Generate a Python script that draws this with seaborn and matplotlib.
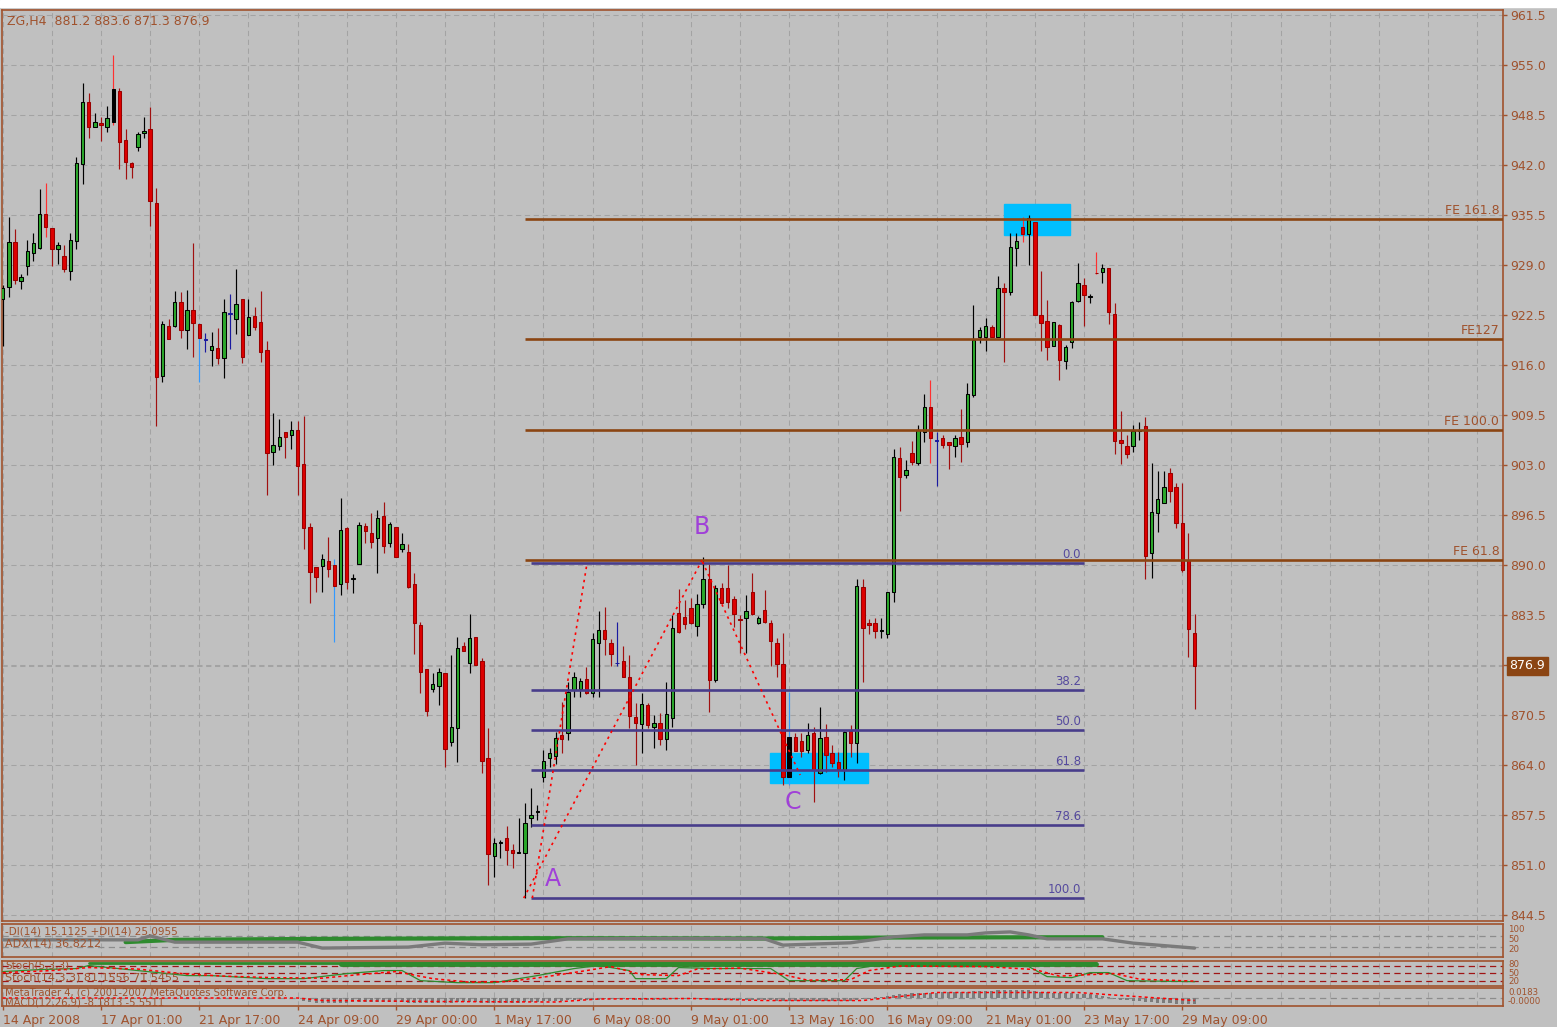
import pandas as pd
import numpy as np
import matplotlib
matplotlib.use("Agg")
import matplotlib.pyplot as plt
import seaborn as sns
from matplotlib.patches import Rectangle

# ---- H4 bars (bar 0 = 14 Apr 2008) ----
opens = [924.6, 926.1, 932.0, 926.9, 928.9, 930.6, 931.2, 935.6, 933.8, 931.1,
         930.2, 928.2, 932.1, 942.1, 950.2, 946.9, 947.5, 946.9, 947.6, 951.6,
         945.3, 942.3, 944.3, 946.2, 946.7, 937.1, 914.6, 921.1, 921.1, 924.2,
         920.6, 923.2, 921.3, 919.4, 918.0, 918.2, 916.9, 922.7, 922.0, 924.6,
         919.9, 922.4, 921.6, 918.0, 904.7, 905.5, 907.3, 906.9, 907.6, 903.1,
         894.9, 889.7, 889.9, 890.5, 890.0, 887.5, 894.8, 888.2, 890.1, 895.1,
         894.2, 893.5, 896.4, 892.9, 894.9, 892.1, 891.7, 887.5, 882.2, 876.5,
         873.9, 874.3, 876.0, 867.0, 868.8, 879.5, 877.3, 880.6, 877.5, 864.9,
         852.2, 853.8, 854.5, 852.9, 852.6, 852.6, 857.1, 857.9, 862.4, 864.9,
         865.2, 867.9, 868.2, 873.8, 873.9, 875.2, 873.4, 879.9, 881.6, 879.9,
         877.3, 877.5, 875.4, 870.2, 869.3, 871.8, 868.9, 869.5, 867.4, 870.1,
         883.8, 883.2, 884.4, 882.1, 884.9, 888.2, 875.1, 887.0, 887.0, 885.6,
         883.0, 883.1, 886.5, 882.5, 884.2, 882.5, 879.9, 877.1, 862.4, 867.6,
         867.1, 866.0, 868.2, 863.0, 867.6, 865.6, 864.4, 863.4, 868.4, 866.9,
         887.1, 882.4, 882.4, 881.4, 881.0, 886.5, 903.9, 901.7, 904.6, 903.3,
         907.3, 910.5, 906.1, 906.5, 906.0, 905.5, 906.6, 906.0, 912.1, 919.6,
         919.6, 920.9, 919.6, 926.0, 925.5, 931.2, 933.9, 933.0, 934.6, 922.5,
         921.7, 918.5, 921.2, 916.5, 919.0, 924.3, 926.4, 924.8, 928.0, 928.1,
         928.6, 922.6, 906.2, 905.5, 905.5, 907.4, 908.1, 891.6, 896.8, 898.1,
         902.0, 900.1, 895.5, 890.7, 881.2]
highs = [926.4, 935.2, 933.7, 927.8, 932.3, 933.2, 938.9, 939.7, 933.8, 932.0,
         931.6, 933.2, 943.0, 952.7, 951.4, 948.8, 948.2, 949.7, 956.3, 952.0,
         946.7, 942.4, 946.3, 948.2, 949.5, 939.0, 921.7, 922.0, 925.6, 925.5,
         925.8, 931.9, 921.5, 920.2, 920.3, 920.8, 924.6, 925.2, 928.5, 924.6,
         924.6, 923.5, 925.6, 919.1, 909.8, 909.0, 907.3, 908.7, 908.7, 909.4,
         895.5, 889.7, 891.4, 893.6, 890.8, 898.7, 894.9, 888.8, 895.6, 895.5,
         896.8, 897.2, 898.2, 895.6, 894.9, 894.2, 892.7, 889.0, 882.6, 876.5,
         876.0, 876.6, 876.0, 878.3, 880.6, 880.0, 883.6, 880.6, 877.9, 868.8,
         854.5, 854.3, 856.1, 853.7, 857.1, 859.1, 861.0, 858.8, 866.0, 866.2,
         868.3, 872.2, 874.8, 876.1, 875.3, 876.7, 881.2, 884.0, 884.5, 880.4,
         882.6, 879.5, 878.3, 872.1, 873.4, 872.1, 870.5, 870.8, 874.8, 883.5,
         886.9, 885.5, 885.7, 886.2, 891.0, 890.1, 887.4, 887.7, 890.0, 886.0,
         883.5, 886.1, 889.0, 883.4, 886.8, 882.9, 880.5, 881.2, 873.5, 868.2,
         868.2, 869.5, 868.9, 871.5, 869.3, 866.6, 865.7, 868.4, 869.2, 888.2,
         888.2, 883.0, 883.1, 883.1, 886.5, 905.1, 905.3, 903.7, 906.1, 908.2,
         912.2, 914.0, 907.3, 906.9, 906.0, 906.9, 910.3, 913.7, 923.8, 920.9,
         922.1, 921.2, 927.6, 926.7, 933.2, 933.2, 935.2, 935.5, 934.6, 928.2,
         924.5, 921.6, 921.3, 918.6, 924.3, 929.3, 927.3, 925.2, 930.7, 929.1,
         928.6, 924.1, 910.0, 906.9, 908.2, 908.6, 909.2, 903.3, 902.2, 902.2,
         902.6, 900.7, 900.7, 894.2, 883.6]
lows = [918.5, 924.8, 926.5, 925.9, 927.7, 929.5, 931.1, 932.6, 928.9, 929.1,
        928.1, 927.1, 931.1, 939.5, 945.5, 946.9, 945.1, 946.3, 947.2, 941.5,
        940.2, 940.3, 943.8, 945.5, 934.1, 908.1, 913.8, 919.4, 920.9, 919.5,
        918.1, 917.0, 913.8, 917.7, 915.9, 916.1, 914.3, 918.1, 920.0, 916.3,
        919.9, 920.6, 916.4, 899.1, 903.0, 905.0, 903.9, 905.1, 899.1, 892.1,
        885.1, 886.5, 886.5, 888.4, 880.0, 886.1, 886.9, 886.4, 890.1, 892.9,
        892.2, 889.0, 891.6, 892.3, 891.0, 891.7, 887.0, 878.4, 873.4, 870.4,
        873.5, 871.8, 863.7, 866.5, 864.4, 878.8, 876.0, 877.0, 863.0, 848.4,
        849.4, 851.9, 851.0, 850.6, 852.6, 846.7, 855.9, 856.9, 861.8, 863.7,
        864.1, 865.6, 867.3, 872.8, 872.8, 873.2, 872.8, 872.8, 878.3, 876.9,
        876.9, 875.4, 868.8, 864.0, 865.6, 868.8, 866.2, 866.6, 866.0, 868.9,
        881.2, 881.7, 882.3, 880.8, 884.4, 870.9, 874.8, 885.1, 884.4, 881.9,
        878.6, 878.6, 883.5, 882.3, 882.5, 876.9, 875.4, 861.4, 861.4, 865.8,
        865.0, 865.5, 859.2, 862.8, 863.1, 863.7, 862.4, 862.1, 865.0, 864.3,
        874.8, 881.0, 880.5, 880.5, 880.5, 885.2, 897.0, 901.3, 903.0, 903.0,
        906.0, 903.3, 900.3, 905.2, 902.5, 904.0, 903.4, 905.3, 911.8, 918.9,
        917.8, 919.6, 919.6, 916.4, 925.1, 928.9, 932.0, 929.0, 922.5, 917.8,
        916.7, 918.5, 914.1, 915.5, 918.2, 924.2, 921.1, 924.1, 927.8, 926.7,
        921.3, 904.4, 903.1, 903.9, 904.7, 906.3, 888.2, 888.3, 894.3, 898.1,
        898.2, 894.8, 889.1, 878.0, 871.3]
closes = [926.0, 932.0, 927.1, 927.4, 930.8, 931.9, 935.6, 933.9, 931.1, 931.6,
          928.5, 932.3, 942.3, 950.2, 946.9, 947.6, 947.2, 948.1, 951.9, 945.0,
          942.4, 941.7, 946.0, 946.4, 937.3, 914.4, 921.3, 919.4, 924.2, 920.6,
          923.2, 921.5, 919.5, 919.3, 918.5, 916.9, 922.9, 922.6, 923.9, 917.0,
          922.2, 920.9, 917.7, 904.6, 905.6, 906.6, 906.6, 907.6, 902.9, 894.8,
          889.1, 888.4, 890.8, 889.5, 887.3, 894.6, 887.8, 888.3, 895.2, 894.4,
          893.0, 896.1, 892.5, 895.3, 891.0, 892.7, 887.1, 882.5, 876.1, 871.0,
          874.5, 876.1, 866.1, 868.9, 879.2, 878.8, 880.5, 877.0, 864.5, 852.4,
          853.9, 854.0, 852.9, 852.6, 852.7, 856.5, 857.5, 857.9, 864.5, 865.6,
          867.5, 867.4, 873.5, 875.4, 874.9, 873.4, 880.4, 881.6, 880.4, 878.4,
          877.2, 875.4, 870.4, 869.5, 871.9, 869.2, 869.5, 867.4, 870.6, 881.8,
          881.3, 882.3, 882.5, 884.9, 888.2, 875.1, 887.0, 885.1, 885.2, 883.6,
          882.9, 884.0, 883.6, 883.1, 882.6, 880.1, 877.1, 862.4, 867.6, 865.8,
          865.8, 867.9, 863.4, 867.5, 865.3, 864.3, 863.5, 868.3, 866.9, 887.3,
          881.8, 882.2, 881.4, 881.4, 886.5, 904.0, 901.4, 902.4, 903.4, 907.6,
          910.5, 906.5, 906.1, 905.6, 905.6, 906.5, 905.7, 912.2, 919.3, 920.6,
          921.1, 919.6, 926.0, 925.5, 931.3, 932.1, 933.0, 935.1, 922.5, 921.5,
          918.3, 921.6, 916.7, 918.3, 924.2, 926.7, 925.1, 924.9, 927.9, 928.6,
          922.9, 906.1, 905.9, 904.4, 907.4, 907.5, 891.2, 896.9, 898.6, 900.1,
          899.6, 895.5, 889.4, 881.7, 876.9]

date_bars = [0, 16, 32, 48, 64, 80, 96, 112, 128, 144, 160, 176, 192]
date_labels = ["14 Apr 2008", "17 Apr 01:00", "21 Apr 17:00", "24 Apr 09:00",
               "29 Apr 00:00", "1 May 17:00", "6 May 08:00", "9 May 01:00",
               "13 May 16:00", "16 May 09:00", "21 May 01:00", "23 May 17:00",
               "29 May 09:00"]
price_ticks = [961.5, 955.0, 948.5, 942.0, 935.5, 929.0, 922.5, 916.0, 909.5,
               903.0, 896.5, 890.0, 883.5, 877.0, 870.5, 864.0, 857.5, 851.0, 844.5]

# fibo expansion (brown) and retracement (blue) levels
fe_names = ["FE 61.8", "FE 100.0", "FE127", "FE 161.8"]
fe_prices = [890.6, 907.6, 919.4, 935.0]
fib_names = ["0.0", "38.2", "50.0", "61.8", "78.6", "100.0"]
fib_prices = [890.2, 873.8, 868.5, 863.4, 856.2, 846.7]

wave_names = ["A", "B", "C"]
wave_bars = [89.6, 113.8, 128.6]
wave_prices = [849.2, 895.0, 859.2]

leg1_bars, leg1_prices = [86.2, 95.1], [846.7, 890.2]
leg2_bars, leg2_prices = [84.8, 113.8], [846.7, 890.6]
leg3_bars, leg3_prices = [113.9, 129.8], [890.4, 862.7]

# highlight boxes: bar from, bar to, price low, price high
box_bars = [(124.9, 140.8), (162.9, 173.8)]
box_prices = [(861.7, 865.6), (932.9, 936.9)]

# odd coloured bars on the original
wick_override = {7: "#FF3030", 18: "#FF3030", 32: "#3399FF", 33: "#1A1AA0",
                 37: "#1A1AA0", 54: "#3399FF", 100: "#1A1AA0", 128: "#3399FF",
                 151: "#FF3030", 152: "#1A1AA0", 166: "#FF3030", 178: "#FF3030"}
body_override = {18: "black", 128: "black", 33: "#1A1AA0", 37: "#1A1AA0",
                 100: "#1A1AA0", 152: "#1A1AA0"}

# indicator pane 1 (0-100)
adx_bars = [0, 22, 24, 28, 48, 52, 66, 72, 78, 86, 92, 112, 124, 127, 138, 145,
            150, 157, 160, 164, 167, 170, 179, 184, 188, 194]
adx_vals = [52, 52, 64, 45, 45, 27, 30, 42, 37, 39, 55, 56, 55, 36, 43, 61,
            67, 67, 73, 76, 67, 55, 55, 42, 36, 27]
di_bars = [20, 28, 52, 86, 124, 145, 179]
di_vals = [45, 52, 55, 57, 56, 59, 60]
pane1_levels = [64, 30]

# indicator pane 2 (stochastic 0-100)
stoch_top_bars, stoch_top_vals = [14, 178], [89, 89]
stoch_band_bars, stoch_band_vals = [55, 178], [88, 88]
k_bars = [0, 6, 12, 14, 22, 30, 34, 43, 49, 56, 62, 65, 68, 74, 80, 87, 93, 97,
          102, 103, 108, 110, 116, 125, 128, 137, 139, 142, 155, 167, 170, 174,
          177, 180, 183, 194]
k_vals = [56, 64, 68, 80, 60, 40, 40, 28, 28, 48, 60, 60, 20, 12, 12, 40, 68, 80,
          60, 28, 28, 72, 68, 68, 20, 20, 68, 80, 76, 76, 36, 32, 52, 52, 20, 16]
d_bars = [0, 8, 14, 22, 30, 36, 44, 52, 58, 64, 70, 76, 82, 88, 95, 99, 104, 110,
          113, 120, 127, 131, 138, 141, 146, 160, 168, 172, 177, 181, 185, 194]
d_vals = [52, 60, 72, 66, 46, 38, 32, 30, 44, 56, 28, 14, 16, 34, 60, 76, 44, 40,
          66, 70, 44, 22, 24, 60, 78, 76, 64, 38, 44, 48, 26, 18]
pane2_levels = [80, 50, 20]

# indicator pane 3 (MACD histogram, one value per bar)
macd_hist = ([0] * 49 +
             [-3, -4, -5, -5, -5, -5, -5, -5, -4, -4, -4, -4,
              -4, -4, -4, -4, -4, -5, -5, -5, -5, -5, -5, -5,
              -5, -4, -4, -4, -4, -5, -5, -5, -5, -5, -5, -5,
              -4, -4, -4, -3, -3, -3, -3, -2, -2, -2, -2, -2,
              -2, -1, -1, -1, -1, -1, -2, -2, -2, -2, -2, -2,
              -1, -1, -1, -1, -1, -1, -2, -2, -2, -2, -2, -2,
              -2, -2, -2, -2, -2, -3, -3, -3, -3, -3, -3, -3,
              -3, -3, -3, -3, -3, -3, -2, -1, -1, 1, 1, 2,
              3, 4, 4, 5, 5, 5, 5, 5, 6, 6, 6, 6,
              6, 7, 7, 7, 7, 8, 8, 8, 8, 8, 8, 7,
              6, 6, 5, 5, 5, 5, 4, 4, 4, 3, 2, 1,
              -1, -2, -2, -3, -3, -4, -4, -5, -5, -5, -6, -6, -6, -6])
sig_bars = [0, 48, 52, 70, 90, 97, 112, 124, 140, 146, 152, 175, 182, 194]
sig_vals = [-0.5, -0.5, -3, -4, -4.5, -1.5, -1, -3, -3, 1, 5, 5, 2, -3]

# ---- style ----
BG = "#C0C0C0"
GRID = "#A3A3A3"
BROWN = "#A0522D"
FE_COLOR = "#8B4513"
FIB_COLOR = "#483D8B"
FIB_TEXT = "#554A9E"
GREEN = "#2BA82B"
IND_GREEN = "#2E8B2E"
RED = "#DD0000"
RED_EDGE = "#990000"
RED_WICK = "#A01010"
LETTER = "#A040D8"
CYAN = "#00BFFF"
DASH = (0, (5, 3.5))

sns.set_theme(style="ticks", rc={"axes.facecolor": BG, "figure.facecolor": BG,
                                 "axes.edgecolor": BROWN, "axes.linewidth": 1.2,
                                 "grid.color": GRID, "grid.linewidth": 0.75})
plt.rcParams["font.family"] = ["DejaVu Sans"]

W, H = 1557, 1027
fig = plt.figure(figsize=(W / 100, H / 100), dpi=100)


def box(left, top, right, bottom):
    return [left / W, 1 - bottom / H, (right - left) / W, (bottom - top) / H]


ax = fig.add_axes(box(1.5, 10, 1503, 921))
ax1 = fig.add_axes(box(1.5, 924, 1503, 957))
ax2 = fig.add_axes(box(1.5, 960.5, 1503, 985.7))
ax3 = fig.add_axes(box(1.5, 988, 1503, 1006))

fig.patches.append(Rectangle((0, 1 - 7 / H), 1, 7 / H, transform=fig.transFigure,
                             color="white", zorder=0))

df = pd.DataFrame({"bar": np.arange(len(opens)), "open": opens, "high": highs,
                   "low": lows, "close": closes})
df["up"] = df["close"] >= df["open"]
df["lo"] = df[["open", "close"]].min(axis=1)
df["h"] = (df["close"] - df["open"]).abs().clip(lower=0.12)
df["wick"] = np.where(df["up"], "black", RED_WICK)
df["fill"] = np.where(df["up"], GREEN, RED)
df["edge"] = np.where(df["up"], "black", RED_EDGE)
for b, c in wick_override.items():
    df.loc[b, "wick"] = c
for b, c in body_override.items():
    df.loc[b, "fill"] = c
    df.loc[b, "edge"] = c

XMIN, XMAX = -0.2, 244.2

# highlight boxes behind everything
for (x0, x1), (p0, p1) in zip(box_bars, box_prices):
    ax.add_patch(Rectangle((x0, p0), x1 - x0, p1 - p0, color=CYAN, zorder=1))

# candles
ax.vlines(df["bar"], df["low"], df["high"], colors=df["wick"], lw=0.85, zorder=3)
ax.bar(df["bar"], df["h"], bottom=df["lo"], width=0.55, color=df["fill"],
       edgecolor=df["edge"], linewidth=0.75, zorder=4)

# fibo expansion
for name, p in zip(fe_names, fe_prices):
    ax.hlines(p, 85, XMAX, color=FE_COLOR, lw=1.9, zorder=5)
    ax.annotate(name, xy=(243.6, p), xytext=(0, 1.5), textcoords="offset points",
                ha="right", va="bottom", color=BROWN, fontsize=9, zorder=6)
# fibo retracement
for name, p in zip(fib_names, fib_prices):
    ax.hlines(p, 86, 176, color=FIB_COLOR, lw=1.9, zorder=5)
    ax.annotate(name, xy=(175.5, p), xytext=(0, 1.5), textcoords="offset points",
                ha="right", va="bottom", color=FIB_TEXT, fontsize=8.5, zorder=6)

# zigzag legs
for xs, ys in [(leg1_bars, leg1_prices), (leg2_bars, leg2_prices), (leg3_bars, leg3_prices)]:
    sns.lineplot(x=xs, y=ys, ax=ax, color="#FF0000", lw=1.2,
                 linestyle=(0, (1.5, 2.5)), zorder=6)

for name, bx, p in zip(wave_names, wave_bars, wave_prices):
    ax.text(bx, p, name, color=LETTER, fontsize=17, ha="center", va="center", zorder=7)

ax.axhline(closes[-1], color=GRID, lw=0.75, ls=DASH, zorder=0.6)

ax.set_xlim(XMIN, XMAX)
ax.set_ylim(843.72, 962.15)
ax.set_xticks(range(0, 245, 8))
ax.set_yticks(price_ticks)
ax.set_yticklabels(["" if p == 877.0 else f"{p:.1f}" for p in price_ticks])
ax.grid(True, ls=DASH, color=GRID, lw=0.75)
ax.set_axisbelow(True)
ax.tick_params(axis="x", length=0, labelbottom=False)
ax.tick_params(axis="y", left=False, right=True, labelleft=False, labelright=True,
               length=3, width=1, color=BROWN, labelcolor=BROWN, labelsize=9, pad=2)
ax.set_xlabel("")
ax.set_ylabel("")

ax.annotate(f"{closes[-1]:.1f}", xy=(1, closes[-1]), xycoords=("axes fraction", "data"),
            xytext=(4.6, 0), textcoords="offset points", ha="left", va="center",
            color="white", fontsize=9,
            bbox=dict(boxstyle="square,pad=0.2", fc=FE_COLOR, ec=FE_COLOR))

fig.text(7 / W, 1 - 22 / H, "ZG,H4  881.2 883.6 871.3 876.9", color=BROWN,
         fontsize=9, va="center", ha="left")

# ---- indicator panes ----
for a in (ax1, ax2, ax3):
    a.set_xlim(XMIN, XMAX)
    a.set_xticks(range(0, 245, 8), minor=True)
    a.grid(True, which="both", axis="x", ls=DASH, color=GRID, lw=0.75)
    a.set_axisbelow(True)
    a.set_yticks([])
    a.tick_params(axis="x", which="minor", length=0)

ax1.set_ylim(0, 100)
for lv in pane1_levels:
    ax1.axhline(lv, color="#8C8C8C", lw=0.9, ls=DASH, zorder=1)
sns.lineplot(x=di_bars, y=di_vals, ax=ax1, color=IND_GREEN, lw=3, zorder=3)
sns.lineplot(x=adx_bars, y=adx_vals, ax=ax1, color="#7A7A7A", lw=2.4, zorder=4)
ax1.set_xticks([])

ax2.set_ylim(0, 100)
for lv in pane2_levels:
    ax2.axhline(lv, color="#A01414", lw=0.9, ls=DASH, zorder=1)
sns.lineplot(x=stoch_top_bars, y=stoch_top_vals, ax=ax2, color=IND_GREEN, lw=2, zorder=3)
sns.lineplot(x=stoch_band_bars, y=stoch_band_vals, ax=ax2, color=IND_GREEN, lw=3.5, zorder=3)
sns.lineplot(x=k_bars, y=k_vals, ax=ax2, color=IND_GREEN, lw=0.9, zorder=4)
sns.lineplot(x=d_bars, y=d_vals, ax=ax2, color="#FF0000", lw=1.1,
             linestyle=(0, (2, 2)), zorder=5)
ax2.set_xticks([])

ax3.set_ylim(-8.5, 9.5)
ax3.axhline(0, color="#8C8C8C", lw=0.9, ls=DASH, zorder=1)
ax3.bar(np.arange(len(macd_hist)), macd_hist, width=0.5, color="#7C7C7C",
        edgecolor="none", linewidth=0, zorder=3)
sns.lineplot(x=sig_bars, y=sig_vals, ax=ax3, color="#FF0000", lw=1.1,
             linestyle=(0, (2, 2)), zorder=4)
ax3.set_xticks(date_bars)
ax3.set_xticklabels(date_labels, ha="left")
ax3.tick_params(axis="x", which="major", length=3, width=1, color=BROWN,
                labelcolor=BROWN, labelsize=9, pad=3)

for a in (ax, ax1, ax2, ax3):
    a.set_xlabel("")
    a.set_ylabel("")
    for s in a.spines.values():
        s.set_color(BROWN)
        s.set_linewidth(1.2)

# pane captions (left)
small = dict(color=BROWN, ha="left", va="center")
fig.text(5 / W, 1 - 931 / H, "-DI(14) 15.1125 +DI(14) 25.0955", fontsize=7.5, **small)
fig.text(5 / W, 1 - 944 / H, "ADX(14) 36.8212", fontsize=8, **small)
fig.text(5 / W, 1 - 965.5 / H, "Stoch(5,3,3)", fontsize=7.5, **small)
fig.text(5 / W, 1 - 977.5 / H, "Stoch(14,3,3) 81.1556 71.5455", fontsize=8, **small)
fig.text(5 / W, 1 - 992.5 / H, "MetaTrader 4, (c) 2001-2007 MetaQuotes Software Corp.",
         fontsize=7.2, **small)
fig.text(5 / W, 1 - 1002.5 / H, "MACD(12,26,9) -8.1813 -5.5511", fontsize=7.2, **small)

# pane scale labels (right)
right = dict(color=BROWN, fontsize=6.2, ha="left", va="center")
for txt, py in [("100", 929), ("50", 939.5), ("20", 950)]:
    fig.text(1508 / W, 1 - py / H, txt, **right)
for txt, py in [("80", 964.5), ("50", 973), ("20", 981.5)]:
    fig.text(1508 / W, 1 - py / H, txt, **right)
for txt, py in [("0.0183", 992.5), ("-0.0000", 1001.5)]:
    fig.text(1508 / W, 1 - py / H, txt, **right)

fig.savefig("out.png", dpi=100, facecolor=BG)
